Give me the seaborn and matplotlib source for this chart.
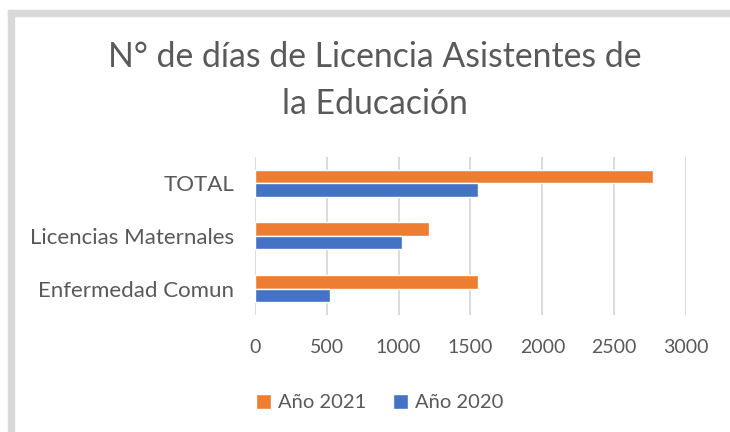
import pandas as pd
import seaborn as sns
import matplotlib.pyplot as plt
from matplotlib.patches import Rectangle

# datos
categorias = ['TOTAL', 'Licencias Maternales', 'Enfermedad Comun']
anio_2021 = [2770, 1210, 1555]
anio_2020 = [1550, 1027, 522]
series = ['Año 2021', 'Año 2020']
ticks_x = [0, 500, 1000, 1500, 2000, 2500, 3000]

dados = pd.DataFrame({
    'categoria': categorias * 2,
    'serie': [series[0]] * 3 + [series[1]] * 3,
    'dias': anio_2021 + anio_2020,
})

sns.set_style('white')
plt.rcParams['font.family'] = ['Lato', 'DejaVu Sans']
gris = '#595959'

fig = plt.figure(figsize=(7.3, 4.32), dpi=100)
ax = fig.add_axes([0.349, 0.271, 0.591, 0.366])

sns.barplot(data=dados, y='categoria', x='dias', hue='serie',
            order=categorias, hue_order=series,
            palette=['#ED7D31', '#4472C4'], width=0.514, gap=0,
            orient='h', saturation=1, ax=ax, legend=True)

ax.set_xlim(0, 3000)
ax.set_ylim(2.5, -0.5)
ax.set_xticks(ticks_x)
ax.set_xlabel('')
ax.set_ylabel('')
ax.grid(axis='x', color='#d9d9d9', linewidth=1.3)
ax.set_axisbelow(True)
for s in ax.spines.values():
    s.set_visible(False)
ax.tick_params(axis='y', length=0, pad=15, labelsize=16, labelcolor=gris)
ax.tick_params(axis='x', length=0, pad=17, labelsize=14, labelcolor=gris)

ax.legend(loc='upper center', bbox_to_anchor=(0.29, -0.385), ncol=2,
          frameon=False, fontsize=14.5, labelcolor=gris,
          handlelength=0.75, handleheight=0.75, handletextpad=0.35,
          columnspacing=1.3)

# titulo en dos lineas
fig.text(0.513, 1 - 66.7 / 432, 'N° de días de Licencia Asistentes de',
         ha='center', va='baseline', fontsize=24.3, color=gris)
fig.text(0.513, 1 - 114 / 432, 'la Educación',
         ha='center', va='baseline', fontsize=24.3, color=gris)

# marco gris del grafico
fig.patches.append(Rectangle((8 / 730, -0.1), 6 / 730, 1.1 - 10 / 432,
                             transform=fig.transFigure, color='#d9d9d9'))
fig.patches.append(Rectangle((8 / 730, 1 - 16 / 432), 1.1, 6 / 432,
                             transform=fig.transFigure, color='#d9d9d9'))

fig.savefig('out.png', dpi=100, facecolor='white')
